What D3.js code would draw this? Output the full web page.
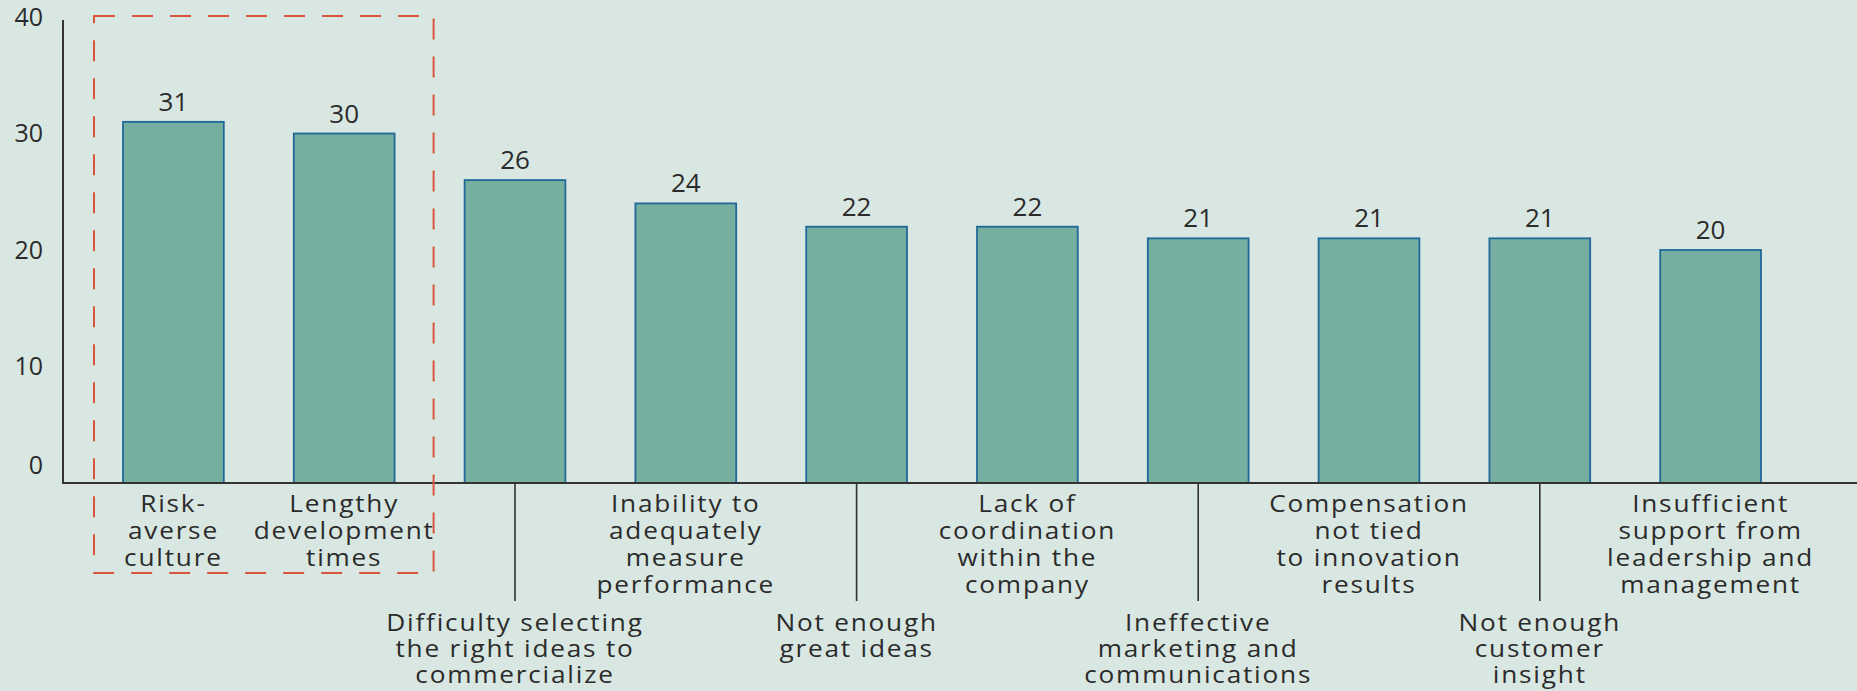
<!DOCTYPE html>
<html>
<head>
<meta charset="utf-8">
<script src="https://cdn.jsdelivr.net/npm/d3@7"></script>
<style>
  html, body { margin: 0; padding: 0; background: #d9e7e2; }
  svg { display: block; }
  text { font-family: "Open Sans", "Noto Sans", sans-serif; fill: #2b2b2b; }
</style>
</head>
<body>
<svg id="chart" width="1857" height="691"></svg>
<script>
// Share of respondents naming each obstacle to innovation (%)
const categories = [
  "Risk-averse culture",
  "Lengthy development times",
  "Difficulty selecting the right ideas to commercialize",
  "Inability to adequately measure performance",
  "Not enough great ideas",
  "Lack of coordination within the company",
  "Ineffective marketing and communications",
  "Compensation not tied to innovation results",
  "Not enough customer insight",
  "Insufficient support from leadership and management"
];

const categoryLines = [
  ["Risk-", "averse", "culture"],
  ["Lengthy", "development", "times"],
  ["Difficulty selecting", "the right ideas to", "commercialize"],
  ["Inability to", "adequately", "measure", "performance"],
  ["Not enough", "great ideas"],
  ["Lack of", "coordination", "within the", "company"],
  ["Ineffective", "marketing and", "communications"],
  ["Compensation", "not tied", "to innovation", "results"],
  ["Not enough", "customer", "insight"],
  ["Insufficient", "support from", "leadership and", "management"]
];

const values = [31, 30, 26, 24, 22, 22, 21, 21, 21, 20];

const yTicks = [0, 10, 20, 30, 40];

// Obstacles framed by the dashed call-out box
const highlighted = ["Risk-averse culture", "Lengthy development times"];

const W = 1857, H = 691;
const svg = d3.select("#chart");

svg.append("rect").attr("width", W).attr("height", H).attr("fill", "#d9e7e2");

const x = d3.scaleBand()
  .domain(categories)
  .range([88, 1796])
  .paddingInner(0.41)
  .paddingOuter(0.205);

const y = d3.scaleLinear()
  .domain([0, 40])
  .range([483, 17]);

const data = categories.map((c, i) => ({ cat: c, value: values[i], lines: categoryLines[i], i }));

// Y axis labels (no tick marks)
const yAxis = svg.append("g")
  .attr("transform", `translate(63,0)`)
  .call(d3.axisLeft(y).tickValues(yTicks).tickSize(0).tickPadding(20).tickFormat(d3.format("d")));
yAxis.select(".domain").remove();
yAxis.selectAll("text")
  .style("font-family", '"Open Sans", sans-serif')
  .attr("font-size", 25)
  .attr("fill", "#2b2b2b")
  .attr("y", d => d === 0 ? -18 : 0);

// Bars
svg.append("g").selectAll("rect")
  .data(data)
  .join("rect")
  .attr("x", d => x(d.cat))
  .attr("y", d => y(d.value))
  .attr("width", x.bandwidth())
  .attr("height", d => y(0) - y(d.value))
  .attr("fill", "#76afa0")
  .attr("stroke", "#20679a")
  .attr("stroke-width", 1.8);

// Value labels
svg.append("g").selectAll("text")
  .data(data)
  .join("text")
  .attr("x", d => x(d.cat) + x.bandwidth() / 2)
  .attr("y", d => y(d.value) - 11)
  .attr("text-anchor", "middle")
  .attr("font-size", 26)
  .text(d => d3.format("d")(d.value));

// Axis lines
svg.append("line")
  .attr("x1", 63).attr("x2", 63)
  .attr("y1", y(40) + 3).attr("y2", y(0) + 1)
  .attr("stroke", "#333").attr("stroke-width", 2);
svg.append("line")
  .attr("x1", 62).attr("x2", W)
  .attr("y1", y(0)).attr("y2", y(0))
  .attr("stroke", "#333").attr("stroke-width", 2);

// Category labels: from the third bar on, every other label drops to a lower row with a leader line
const upperBase = 512, upperLineH = 27;
const lowerBase = 631, lowerLineH = 26;
const isLower = d => d.i >= 2 && d.i % 2 === 0;

const labels = svg.append("g").selectAll("g")
  .data(data)
  .join("g")
  .attr("transform", d => `translate(${x(d.cat) + x.bandwidth() / 2},${isLower(d) ? lowerBase : upperBase})`);

labels.filter(isLower).append("line")
  .attr("x1", 0).attr("x2", 0)
  .attr("y1", d => y(0) - lowerBase)
  .attr("y2", 601 - lowerBase)
  .attr("stroke", "#333")
  .attr("stroke-width", 1.6);

labels.append("text")
  .attr("text-anchor", "middle")
  .attr("font-size", 23.4)
  .attr("letter-spacing", 1.6)
  .attr("fill", "#2e2e2e")
  .attr("transform", "scale(1.12,1)")
  .selectAll("tspan")
  .data(d => d.lines.map(l => ({ l, lower: isLower(d) })))
  .join("tspan")
  .attr("x", 0)
  .attr("y", (t, j) => j * (t.lower ? lowerLineH : upperLineH))
  .text(t => t.l);

// Dashed call-out around the highlighted obstacles
const hx0 = x(highlighted[0]) - 29;
const hx1 = x(highlighted[highlighted.length - 1]) + x.bandwidth() + 39;
svg.append("rect")
  .attr("x", hx0)
  .attr("y", y(40) - 1)
  .attr("width", hx1 - hx0)
  .attr("height", 573 - (y(40) - 1))
  .attr("fill", "none")
  .attr("stroke", "#d9553f")
  .attr("stroke-width", 2)
  .attr("stroke-dasharray", "21 17");
</script>
</body>
</html>
